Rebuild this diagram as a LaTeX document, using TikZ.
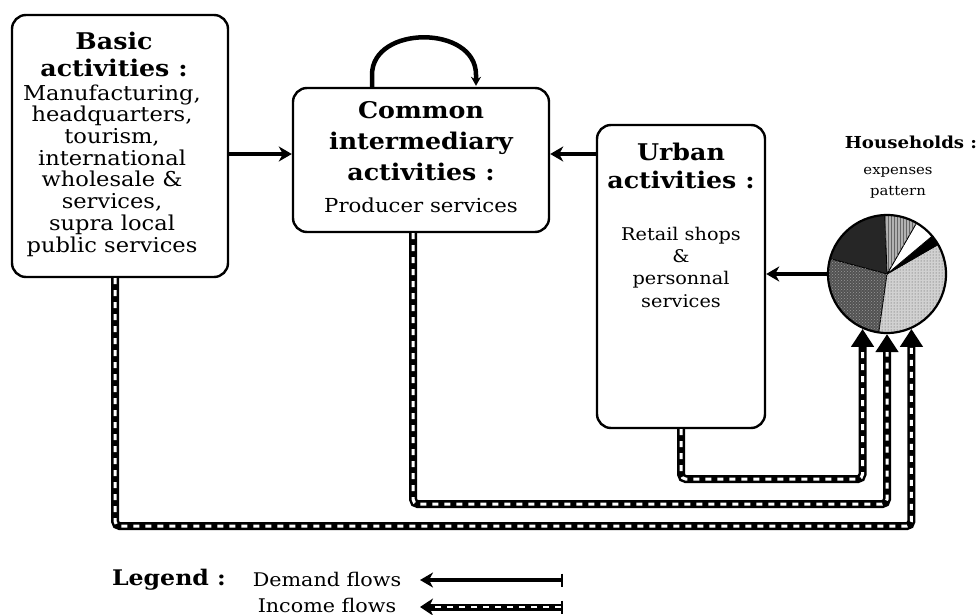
\documentclass[tikz,border=0pt]{standalone}
\usepackage{fontspec}
\setmainfont{DejaVu Serif}[FakeStretch=1.1]
\usetikzlibrary{arrows.meta,patterns}
\begin{document}
\begin{tikzpicture}[x=1pt,y=-1pt,
  box/.style={draw, line width=2.4pt, rounded corners=14pt, inner sep=0pt},
  ttl/.style={font=\fontsize{23}{27}\selectfont\bfseries, align=center, anchor=base, inner sep=0pt},
  bodytxt/.style={font=\fontsize{19.3}{21.7}\selectfont, align=center, anchor=base, inner sep=0pt},
  demand/.style={line width=4pt, -{Stealth[length=13pt,width=15pt,inset=4pt]}},
  selfloop/.style={line width=4.5pt, -{Stealth[length=9pt,width=10pt,inset=3pt]}},
  income/.style={line width=8pt, rounded corners=5pt, -{Triangle[length=18pt,width=22pt]},
    postaction={draw=white, line width=3pt, -, dash pattern=on 6pt off 6pt, shorten >=18pt}},
  seg/.style={draw=black, line width=0.8pt},
]
\useasboundingbox (0,0) rectangle (976,615);

% boxes
\node[box, minimum width=216, minimum height=262] (basic) at (120,146) {};
\node[box, minimum width=256, minimum height=144] (common) at (421,160) {};
\node[box, minimum width=168, minimum height=303] (urban) at (681,276.5) {};

% texts (anchor = baseline of last line)
\node[ttl] (basicT) at (114,77) {Basic\\activities :};
\node[bodytxt, font=\fontsize{20.5}{21.7}\selectfont] (basicB) at (112,252) {Manufacturing,\\headquarters,\\tourism,\\international\\wholesale \&\\services,\\supra local\\public services};
\node[ttl, font=\fontsize{23}{31}\selectfont\bfseries] (commonT) at (421,180) {Common\\intermediary\\activities :};
\node[bodytxt] (commonB) at (421,212) {Producer services};
\node[ttl, font=\fontsize{23}{28}\selectfont\bfseries] (urbanT) at (681,188) {Urban\\activities :};
\node[bodytxt, font=\fontsize{17.5}{22.3}\selectfont] (urbanB) at (681,307) {Retail shops\\\&\\personnal\\services};
\node[ttl, font=\fontsize{16.5}{20}\selectfont\bfseries] (hhT) at (911,148) {Households :};
\node[bodytxt, font=\fontsize{13.5}{21}\selectfont] (hhB) at (898,195) {expenses\\pattern};

% pie chart
\begin{scope}[shift={(887,274)}, y=1pt]
  \fill[black!85, seg] (0,0) -- (92:59) arc (92:165:59) -- cycle;
  \fill[black!68, seg] (0,0) -- (165:59) arc (165:262:59) -- cycle;
  \fill[black!18, seg] (0,0) -- (-98:59) arc (-98:30:59) -- cycle;
  \fill[black, seg] (0,0) -- (30:59) arc (30:40:59) -- cycle;
  \fill[white, seg] (0,0) -- (40:59) arc (40:60:59) -- cycle;
  \fill[black!30, seg] (0,0) -- (60:59) arc (60:92:59) -- cycle;
  \fill[pattern=vertical lines, pattern color=black!60] (0,0) -- (60:59) arc (60:92:59) -- cycle;
  \fill[pattern=dots, pattern color=black!70] (0,0) -- (-98:59) arc (-98:30:59) -- cycle;
  \fill[pattern=crosshatch dots, pattern color=black!40] (0,0) -- (165:59) arc (165:262:59) -- cycle;
\end{scope}
\node[circle, draw, line width=2.2pt, minimum size=118, inner sep=0pt] (pie) at (887,274) {};

% demand flows
\coordinate (dy) at (0,154);
\draw[demand] (basic.east |- dy) -- (common.west |- dy);
\draw[demand] (urban.west |- dy) -- (common.east |- dy);
\draw[demand] (pie.west) -- (urban.east |- pie.west);
\draw[selfloop] ([xshift=-49pt]common.north) -- ++(0,-12)
  .. controls +(0,-50) and +(0,-50) .. ([xshift=55pt,yshift=12pt]common.north)
  -- ([xshift=55pt,yshift=1pt]common.north);

% income flows
\draw[income] (urban.south) -- ++(0,50) -| (pie.-114);
\draw[income] ([xshift=-8pt]common.south) -- ++(0,271) -| (pie.-90);
\draw[income] ([xshift=-5pt]basic.south) -- ++(0,248) -| (pie.-66);

% legend
\node[ttl, font=\fontsize{21.5}{24}\selectfont\bfseries] (legT) at (169,585) {Legend :};
\node[bodytxt, font=\fontsize{18.8}{21}\selectfont] (legD) at (327,586) {Demand flows};
\node[bodytxt, font=\fontsize{18.8}{21}\selectfont] (legI) at (327,612) {Income flows};
\coordinate (d1) at (563,580);
\coordinate (d0) at (420,580);
\coordinate (i1) at (563,607);
\coordinate (i0) at (420,607);
\draw[demand, {Bar[width=13pt,line width=2pt]}-{Stealth[length=13pt,width=15pt,inset=4pt]}] (d1) -- (d0);
\draw[line width=7pt, {Bar[width=13pt,line width=2pt]}-{Stealth[length=13pt,width=17pt,inset=4pt]},
  postaction={draw=white, line width=2.6pt, -, dash pattern=on 6pt off 6pt, shorten >=14pt, shorten <=2pt}] (i1) -- (i0);
\end{tikzpicture}
\end{document}
